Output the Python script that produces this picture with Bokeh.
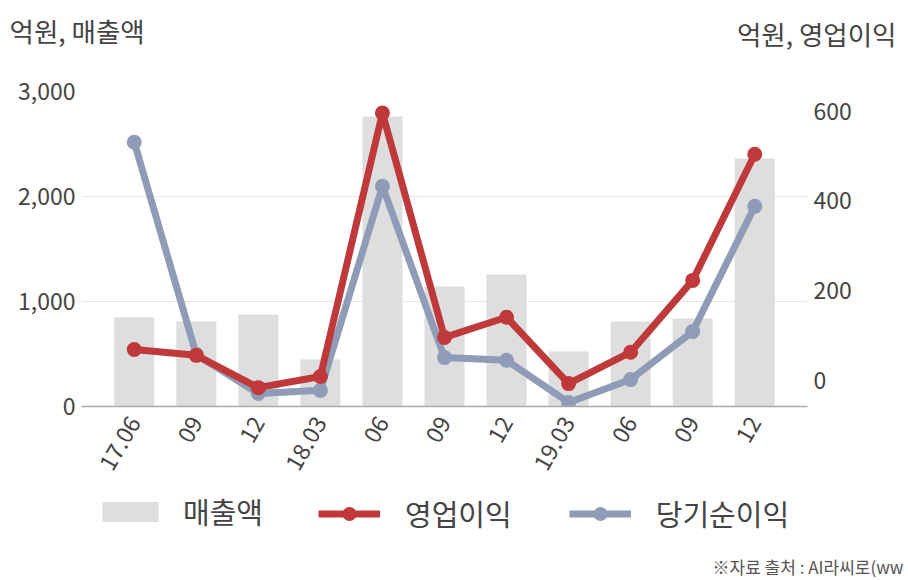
import math
from bokeh.plotting import figure
from bokeh.layouts import column
from bokeh.models import (Range1d, LinearAxis, FixedTicker, NumeralTickFormatter,
                          Legend, LegendItem, ColumnDataSource)
from bokeh.core.properties import value
from bokeh.embed import file_html
from bokeh.resources import INLINE

# ---- data ----
periods = ["17.06", "09", "12", "18.03", "06", "09", "12", "19.03", "06", "09", "12"]
revenue = [850, 810, 876, 448, 2762, 1143, 1257, 524, 810, 838, 2362]      # 매출액 (left axis)
op_profit = [69, 56, -16, 9, 596, 96, 141, -7, 63, 223, 504]               # 영업이익 (right axis)
net_income = [531, 58, -29, -22, 433, 51, 45, -49, 2, 109, 388]            # 당기순이익 (right axis)
left_ticks = [0, 1000, 2000, 3000]
right_ticks = [0, 200, 400, 600]
left_title = "억원, 매출액"
right_title = "억원, 영업이익"
series_names = ["매출액", "영업이익", "당기순이익"]
source_note = "※자료 출처 : AI라씨로(ww"

FONT = "Noto Sans CJK KR"
TXT = "#444444"
BAR = "#DEDEDE"
RED = "#C0393A"
BLUE = "#8E9CB8"
W = 908
HEAD_H = 70
MAIN_H = 412
FOOT_H = 580 - HEAD_H - MAIN_H


def blank(height):
    f = figure(width=W, height=height, output_backend="svg", toolbar_location=None,
               x_range=Range1d(0, W), y_range=Range1d(height, 0),
               x_axis_location=None, y_axis_location=None, min_border=0,
               frame_align=False)
    f.outline_line_color = None
    f.grid.visible = False
    return f


# ---- header: unit captions ----
head = blank(HEAD_H)
head.text(x=[9], y=[30], text=[left_title], text_font=value(FONT), text_font_size="26.5px",
          text_color=TXT, text_baseline="middle", text_align="left")
head.text(x=[896], y=[33], text=[right_title], text_font=value(FONT), text_font_size="26.5px",
          text_color=TXT, text_baseline="middle", text_align="right")

# ---- main chart ----
idx = list(range(len(periods)))
src = ColumnDataSource(dict(x=idx, rev=revenue, op=op_profit, net=net_income))

p = figure(width=W, height=MAIN_H, output_backend="svg", toolbar_location=None,
           x_range=Range1d(-0.85, len(periods) - 0.15), y_range=Range1d(0, 3000),
           min_border_left=81, min_border_right=101, min_border_top=91 - HEAD_H,
           min_border_bottom=MAIN_H - (406 - HEAD_H),
           y_axis_location=None, x_axis_location=None, frame_align=False)
p.outline_line_color = None
p.extra_y_ranges = {"right": Range1d(-58, 644)}

xaxis = LinearAxis(ticker=FixedTicker(ticks=idx),
                   major_label_overrides={i: s for i, s in enumerate(periods)})
xaxis.major_label_orientation = math.pi / 3
xaxis.axis_line_color = "#AAAAAA"
xaxis.axis_line_width = 1.5
xaxis.major_tick_line_color = None
xaxis.minor_tick_line_color = None
xaxis.major_label_text_font = FONT
xaxis.major_label_text_font_size = "23px"
xaxis.major_label_text_color = TXT
xaxis.major_label_standoff = 6
p.add_layout(xaxis, "below")

laxis = LinearAxis(ticker=FixedTicker(ticks=left_ticks), formatter=NumeralTickFormatter(format="0,0"))
laxis.axis_line_color = None
laxis.major_tick_line_color = None
laxis.minor_tick_line_color = None
laxis.major_label_text_font = FONT
laxis.major_label_text_font_size = "23px"
laxis.major_label_text_color = TXT
laxis.major_label_standoff = 0
p.add_layout(laxis, "left")

raxis = LinearAxis(y_range_name="right", ticker=FixedTicker(ticks=right_ticks))
raxis.axis_line_color = None
raxis.major_tick_line_color = None
raxis.minor_tick_line_color = None
raxis.major_label_text_font = FONT
raxis.major_label_text_font_size = "23px"
raxis.major_label_text_color = TXT
raxis.major_label_standoff = 0
p.add_layout(raxis, "right")

p.xgrid.visible = False
p.ygrid.ticker = FixedTicker(ticks=left_ticks)
p.ygrid.grid_line_color = "#E6E6E6"
p.ygrid.grid_line_width = 1

p.vbar(x="x", top="rev", width=0.645, source=src, fill_color=BAR, line_color=None)
p.line(x="x", y="net", source=src, y_range_name="right", line_color=BLUE, line_width=7)
p.scatter(x="x", y="net", source=src, y_range_name="right", size=15,
          fill_color=BLUE, line_color=None)
p.line(x="x", y="op", source=src, y_range_name="right", line_color=RED, line_width=7)
p.scatter(x="x", y="op", source=src, y_range_name="right", size=15,
          fill_color=RED, line_color=None)

# ---- footer: legend + source note ----
foot = blank(FOOT_H)
# legend-only renderers: a single point placed outside the visible area
off = dict(x=[-500, -400], y=[-500, -500])
lb = foot.vbar(x=[-500], top=[-400], bottom=[-500], width=1, fill_color=BAR, line_color=None)
lol = foot.line(x=off["x"], y=off["y"], line_color=RED, line_width=7)
loc = foot.scatter(x=off["x"], y=off["y"], fill_color=RED, line_color=None)
lnl = foot.line(x=off["x"], y=off["y"], line_color=BLUE, line_width=7)
lnc = foot.scatter(x=off["x"], y=off["y"], fill_color=BLUE, line_color=None)

common = dict(orientation="horizontal", label_text_font=FONT, label_text_font_size="29px",
              label_text_color=TXT, padding=0, margin=0,
              border_line_color=None, background_fill_alpha=0)
leg_a = Legend(items=[LegendItem(label=series_names[0], renderers=[lb])],
               location=(95, 48), glyph_width=70, glyph_height=25, label_standoff=18, **common)
leg_b = Legend(items=[LegendItem(label=series_names[1], renderers=[lol, loc]),
                      LegendItem(label=series_names[2], renderers=[lnl, lnc])],
               location=(318, 46), glyph_width=62, glyph_height=35, label_standoff=25,
               spacing=57, **common)
foot.add_layout(leg_a, "center")
foot.add_layout(leg_b, "center")
foot.text(x=[712], y=[566 - (HEAD_H + MAIN_H)], text=[source_note], text_font=value(FONT),
          text_font_size="17px", text_color="#555555", text_baseline="middle", text_align="left")

layout = column(head, p, foot, spacing=0)
open("out.html", "w").write(file_html(layout, INLINE))
